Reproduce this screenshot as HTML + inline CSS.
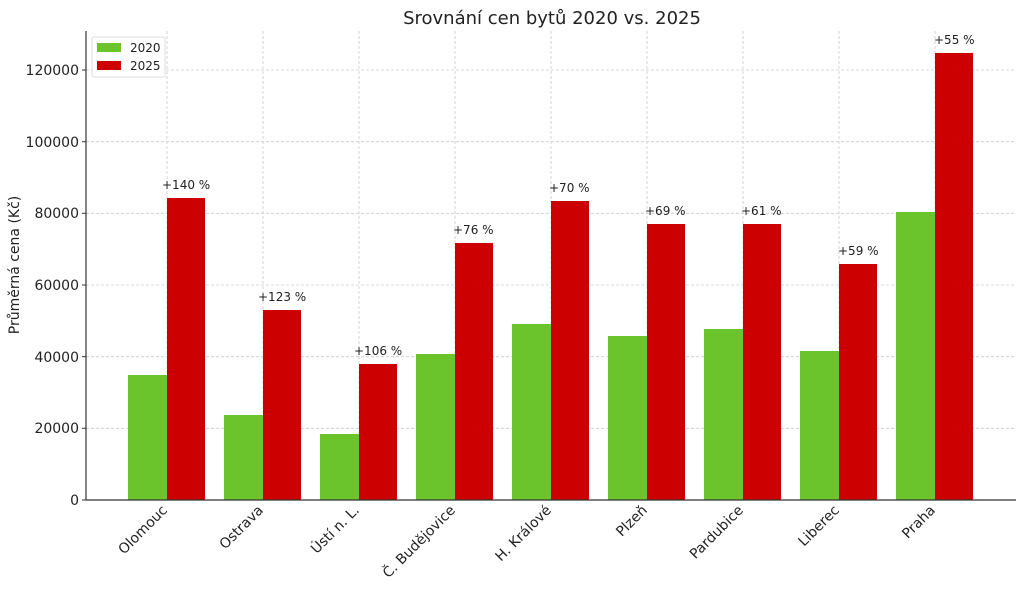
<!DOCTYPE html>
<html><head><meta charset="utf-8"><style>body{margin:0;background:#fff}svg{display:block;font-family:"DejaVu Sans","Liberation Sans",sans-serif}</style></head><body>
<svg width="1024" height="594" viewBox="0 0 1024 594">
<text x="552" y="24" font-size="18" text-anchor="middle" fill="#222">Srovnání cen bytů 2020 vs. 2025</text>
<g stroke="#ccc" stroke-dasharray="3,2" stroke-width="0.8">
<line x1="86" x2="1016" y1="428.3" y2="428.3"/><line x1="86" x2="1016" y1="356.7" y2="356.7"/><line x1="86" x2="1016" y1="285" y2="285"/><line x1="86" x2="1016" y1="213.3" y2="213.3"/><line x1="86" x2="1016" y1="141.7" y2="141.7"/><line x1="86" x2="1016" y1="70" y2="70"/>
<line x1="167" x2="167" y1="31" y2="500"/><line x1="263" x2="263" y1="31" y2="500"/><line x1="359" x2="359" y1="31" y2="500"/><line x1="455" x2="455" y1="31" y2="500"/><line x1="551" x2="551" y1="31" y2="500"/><line x1="647" x2="647" y1="31" y2="500"/><line x1="743" x2="743" y1="31" y2="500"/><line x1="839" x2="839" y1="31" y2="500"/><line x1="935" x2="935" y1="31" y2="500"/>
</g>
<g fill="#6cc42c">
<rect x="128" y="375" width="39" height="125"/><rect x="224" y="415" width="39" height="85"/><rect x="320" y="434" width="39" height="66"/><rect x="416" y="354" width="39" height="146"/><rect x="512" y="324" width="39" height="176"/><rect x="608" y="336" width="39" height="164"/><rect x="704" y="329" width="39" height="171"/><rect x="800" y="351" width="39" height="149"/><rect x="896" y="212" width="39" height="288"/>
</g>
<g fill="#cc0000">
<rect x="167" y="198" width="38" height="302"/><rect x="263" y="310" width="38" height="190"/><rect x="359" y="364" width="38" height="136"/><rect x="455" y="243" width="38" height="257"/><rect x="551" y="201" width="38" height="299"/><rect x="647" y="224" width="38" height="276"/><rect x="743" y="224" width="38" height="276"/><rect x="839" y="264" width="38" height="236"/><rect x="935" y="53" width="38" height="447"/>
</g>
<g font-size="12" fill="#222">
<text x="162" y="189">+140 %</text><text x="258" y="301">+123 %</text><text x="354" y="355">+106 %</text><text x="453" y="234">+76 %</text><text x="549" y="192">+70 %</text><text x="645" y="215">+69 %</text><text x="741" y="215">+61 %</text><text x="838" y="255">+59 %</text><text x="934" y="44">+55 %</text>
</g>
<line x1="86" x2="86" y1="31" y2="500" stroke="#333" stroke-width="1.2"/>
<line x1="86" x2="1016" y1="500" y2="500" stroke="#333" stroke-width="1.2"/>
<g font-size="14" fill="#222" text-anchor="end">
<text x="79" y="505">0</text><text x="79" y="433">20000</text><text x="79" y="362">40000</text><text x="79" y="290">60000</text><text x="79" y="218">80000</text><text x="79" y="147">100000</text><text x="79" y="75">120000</text>
</g>
<g stroke="#333"><line x1="82" x2="86" y1="500" y2="500"/><line x1="82" x2="86" y1="428.3" y2="428.3"/><line x1="82" x2="86" y1="356.7" y2="356.7"/><line x1="82" x2="86" y1="285" y2="285"/><line x1="82" x2="86" y1="213.3" y2="213.3"/><line x1="82" x2="86" y1="141.7" y2="141.7"/><line x1="82" x2="86" y1="70" y2="70"/></g>
<text transform="translate(19,265) rotate(-90)" font-size="14" text-anchor="middle" fill="#222">Průměrná cena (Kč)</text>
<g font-size="14" fill="#222" text-anchor="end">
<text transform="translate(168,511) rotate(-45)">Olomouc</text>
<text transform="translate(264,511) rotate(-45)">Ostrava</text>
<text transform="translate(360,511) rotate(-45)">Ústí n. L.</text>
<text transform="translate(456,511) rotate(-45)">Č. Budějovice</text>
<text transform="translate(552,511) rotate(-45)">H. Králové</text>
<text transform="translate(648,511) rotate(-45)">Plzeň</text>
<text transform="translate(744,511) rotate(-45)">Pardubice</text>
<text transform="translate(840,511) rotate(-45)">Liberec</text>
<text transform="translate(936,511) rotate(-45)">Praha</text>
</g>
<rect x="92" y="37" width="73" height="40" fill="#fff" stroke="#ddd" rx="2"/>
<rect x="97" y="43" width="24" height="9" fill="#6cc42c"/><text x="130" y="52" font-size="12" fill="#222">2020</text>
<rect x="97" y="61" width="24" height="9" fill="#cc0000"/><text x="130" y="70" font-size="12" fill="#222">2025</text>
</svg>
</body></html>
